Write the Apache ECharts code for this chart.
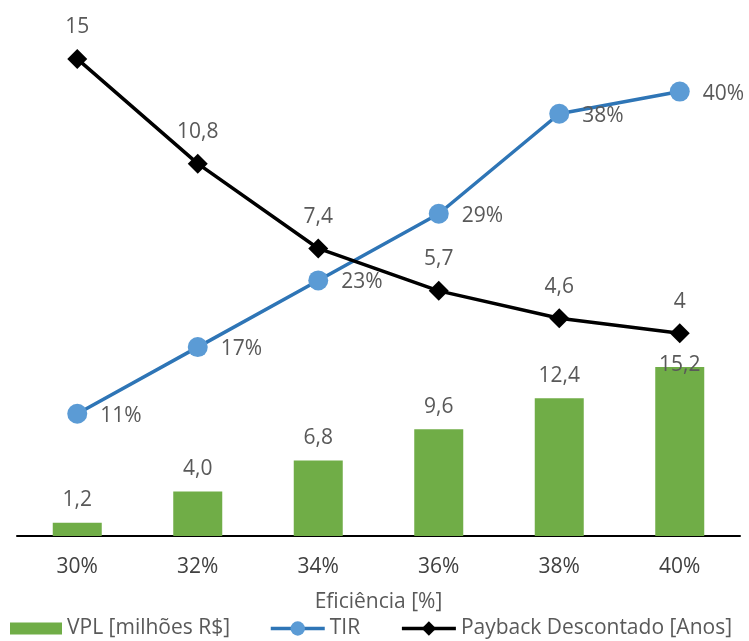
<!DOCTYPE html>
<html><head><meta charset="utf-8">
<script src="https://cdn.jsdelivr.net/npm/echarts@6/dist/echarts.min.js"></script>
<style>html,body{margin:0;padding:0;background:#fff}#c{width:749px;height:641px}</style>
</head><body><div id="c"></div>
<script>
const categories = ['30%', '32%', '34%', '36%', '38%', '40%'];
const vpl = [1.2, 4.0, 6.8, 9.6, 12.4, 15.2];
const tir = [11, 17, 23, 29, 38, 40];
const payback = [15, 10.8, 7.4, 5.7, 4.6, 4];
const xAxisTitle = 'Eficiência [%]';
const seriesNames = ['VPL [milhões R$]', 'TIR', 'Payback Descontado [Anos]'];

const FONT = "'Open Sans', sans-serif";
const FS = 21;
const TXT = '#595959';
const comma = v => String(v).replace('.', ',');

const chart = echarts.init(document.getElementById('c'), null, {renderer: 'canvas'});
chart.setOption({
  animation: false,
  backgroundColor: '#fff',
  textStyle: {fontFamily: FONT},
  grid: {left: 17, right: 9, top: 36, bottom: 105, containLabel: false},
  legend: [
    {
      data: [{name: seriesNames[0], icon: 'rect'}],
      left: 10, top: 618, padding: 0, itemWidth: 52, itemHeight: 12, itemGap: 40,
      textStyle: {fontFamily: FONT, fontSize: FS, color: TXT}
    },
    {
      data: [seriesNames[1], seriesNames[2]],
      left: 269, top: 618, padding: 0, itemWidth: 54, itemHeight: 18, itemGap: 40,
      lineStyle: {width: 3.5},
      textStyle: {fontFamily: FONT, fontSize: FS, color: TXT}
    }
  ],
  xAxis: {
    type: 'category', data: categories,
    name: xAxisTitle, nameLocation: 'middle', nameGap: 56,
    nameTextStyle: {fontFamily: FONT, fontSize: FS, color: TXT},
    axisLine: {lineStyle: {color: '#000', width: 2}},
    axisTick: {show: false},
    axisLabel: {fontFamily: FONT, fontSize: FS, color: '#404040', margin: 21}
  },
  yAxis: [
    {type: 'value', min: 0, max: 45, show: false, splitLine: {show: false}},
    {type: 'value', min: -4.13, max: 15.92, show: false, splitLine: {show: false}}
  ],
  series: [
    {
      name: seriesNames[0], type: 'bar', yAxisIndex: 0, barWidth: 49,
      itemStyle: {color: '#70AD47'},
      label: {show: true, position: 'top', distance: 12, fontFamily: FONT, fontSize: FS, color: TXT,
        formatter: p => p.value.toFixed(1).replace('.', ',')},
      data: vpl.map((v, i) => i === vpl.length - 1 ? {value: v, label: {offset: [0, 20]}} : v),
      z: 1
    },
    {
      name: seriesNames[1], type: 'line', yAxisIndex: 0,
      symbol: 'circle', symbolSize: 20,
      lineStyle: {color: '#2E75B6', width: 3.5},
      itemStyle: {color: '#5B9BD5'},
      label: {show: true, position: 'right', distance: 13, offset: [0, 2], fontFamily: FONT, fontSize: FS, color: TXT,
        formatter: p => p.value + '%'},
      data: tir, z: 3
    },
    {
      name: seriesNames[2], type: 'line', yAxisIndex: 1,
      symbol: 'diamond', symbolSize: 20,
      lineStyle: {color: '#000', width: 3.5},
      itemStyle: {color: '#000'},
      label: {show: true, position: 'top', distance: 11, fontFamily: FONT, fontSize: FS, color: TXT,
        formatter: p => comma(p.value)},
      data: payback, z: 4
    }
  ]
});
</script></body></html>
